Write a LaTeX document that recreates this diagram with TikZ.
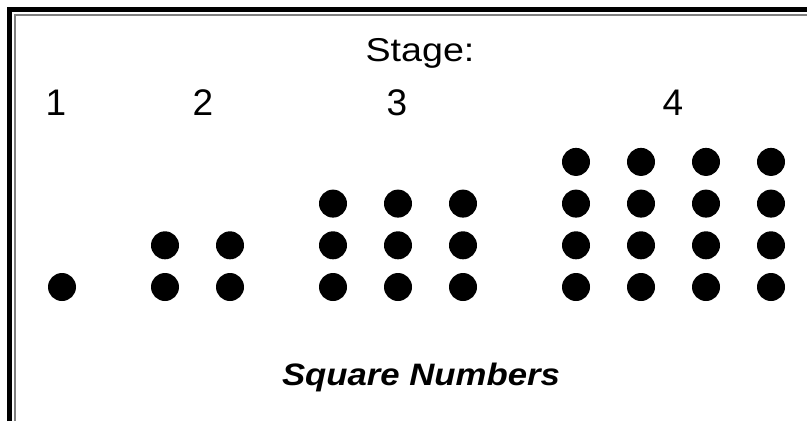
\documentclass[tikz,border=0pt]{standalone}
\usepackage{fontspec}
\setmainfont{Liberation Sans}
\usetikzlibrary{positioning}

\begin{document}
\begin{tikzpicture}[x=1pt, y=-1pt,
  dot/.style={circle, fill=black, inner sep=0pt, minimum size=28pt},
  digit/.style={anchor=base, inner sep=0pt, font=\fontsize{37}{40}\selectfont},
  heading/.style={anchor=base, inner sep=0pt, font=\fontsize{33}{36}\selectfont},
  title/.style={anchor=base, inner sep=0pt, font=\fontsize{31}{34}\selectfont\bfseries\itshape}
]
\useasboundingbox (0,0) rectangle (807,421);
% frame
\draw[line width=5.5pt, line join=miter] (9.5,421) -- (9.5,9.5) -- (807,9.5);
\draw[gray, line width=2pt, line join=miter] (15,421) -- (15,15) -- (807,15);

\node[heading] (stage) at (420,61) {\scalebox{1.14}[1]{Stage:}};
\node[digit] (n1) at (56,115) {1};
\node[digit] (n2) at (203,115) {2};
\node[digit] (n3) at (397,115) {3};
\node[digit] (n4) at (673,115) {4};

% dots of each stage
\node[dot] (s1-1-1) at (62,287) {};
\foreach \c in {1,2}
  \foreach \r in {1,2}
    \node[dot] (s2-\r-\c) at ({100+65*\c},{328.7-41.7*\r}) {};
\foreach \c in {1,2,3}
  \foreach \r in {1,2,3}
    \node[dot] (s3-\r-\c) at ({268+65*\c},{328.7-41.7*\r}) {};
\foreach \c in {1,2,3,4}
  \foreach \r in {1,2,3,4}
    \node[dot] (s4-\r-\c) at ({511+65*\c},{328.7-41.7*\r}) {};

\node[title] (name) at (421,385) {\scalebox{1.12}[1]{Square Numbers}};
\end{tikzpicture}
\end{document}
